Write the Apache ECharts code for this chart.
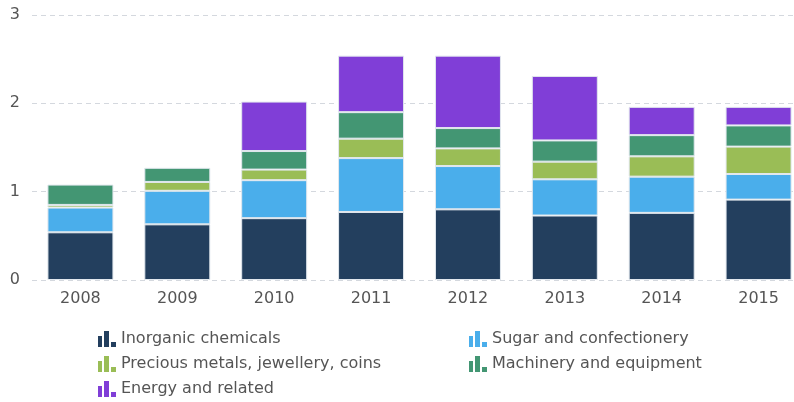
<!DOCTYPE html>
<html>
<head>
    <meta charset="utf-8">
    <script src="https://cdn.jsdelivr.net/npm/echarts@6/dist/echarts.min.js"></script>
    <style type="text/css">
        html, body { margin: 0; padding: 0; background: #fff; }
        #main { width: 794px; height: 402px; }
    </style>
</head>
<body>
    <div id="main"></div>
    <script>
        // data
        const years = ['2008', '2009', '2010', '2011', '2012', '2013', '2014', '2015'];
        const inorganic = [0.54, 0.63, 0.70, 0.77, 0.80, 0.73, 0.76, 0.91];
        const sugar = [0.28, 0.38, 0.43, 0.61, 0.49, 0.41, 0.41, 0.29];
        const precious = [0.03, 0.10, 0.12, 0.22, 0.20, 0.20, 0.23, 0.31];
        const machinery = [0.23, 0.16, 0.21, 0.30, 0.23, 0.24, 0.24, 0.24];
        const energy = [0, 0, 0.56, 0.64, 0.82, 0.73, 0.32, 0.21];
        const yTicks = [0, 1, 2, 3];

        const names = ['Inorganic chemicals', 'Sugar and confectionery',
            'Precious metals, jewellery, coins', 'Machinery and equipment', 'Energy and related'];
        const colors = ['#233f5e', '#4aaeeb', '#9abd56', '#439673', '#803ed7'];
        const values = [inorganic, sugar, precious, machinery, energy];

        const font = 'DejaVu Sans';
        // little bar-chart glyph used as legend marker
        const icon = 'path://M0,5h4v11h-4z M6,0h5v16h-5z M13,11h5v5h-5z';

        const chart = echarts.init(document.getElementById('main'));

        const legendBase = {
            orient: 'vertical',
            top: 329,
            padding: 0,
            itemWidth: 18,
            itemHeight: 16,
            itemGap: 5,
            icon: icon,
            itemStyle: { borderWidth: 0 },
            textStyle: { color: '#555', fontSize: 16, lineHeight: 20, fontFamily: font }
        };

        chart.setOption({
            animation: false,
            grid: { left: 32, top: 15, right: -13, height: 265, outerBoundsMode: 'none', containLabel: false },
            legend: [
                Object.assign({}, legendBase, { left: 98, data: [names[0], names[2], names[4]] }),
                Object.assign({}, legendBase, { left: 469, data: [names[1], names[3]] })
            ],
            xAxis: {
                type: 'category',
                data: years,
                axisLine: { show: false },
                axisTick: { show: false },
                axisLabel: { color: '#555', fontSize: 16, fontFamily: font, margin: 11 }
            },
            yAxis: {
                type: 'value',
                min: yTicks[0],
                max: yTicks[yTicks.length - 1],
                interval: 1,
                axisLabel: { color: '#555', fontSize: 16, fontFamily: font, margin: 12 },
                splitLine: { lineStyle: { color: '#d4d8de', type: [5, 4], width: 1 } }
            },
            series: names.map((n, i) => ({
                name: n,
                type: 'bar',
                stack: 'total',
                barWidth: 66,
                data: values[i].map(v => v === 0 ? null : v),
                itemStyle: { color: colors[i], borderColor: '#e2e8ee', borderWidth: 1 }
            }))
        });
    </script>
</body>
</html>
